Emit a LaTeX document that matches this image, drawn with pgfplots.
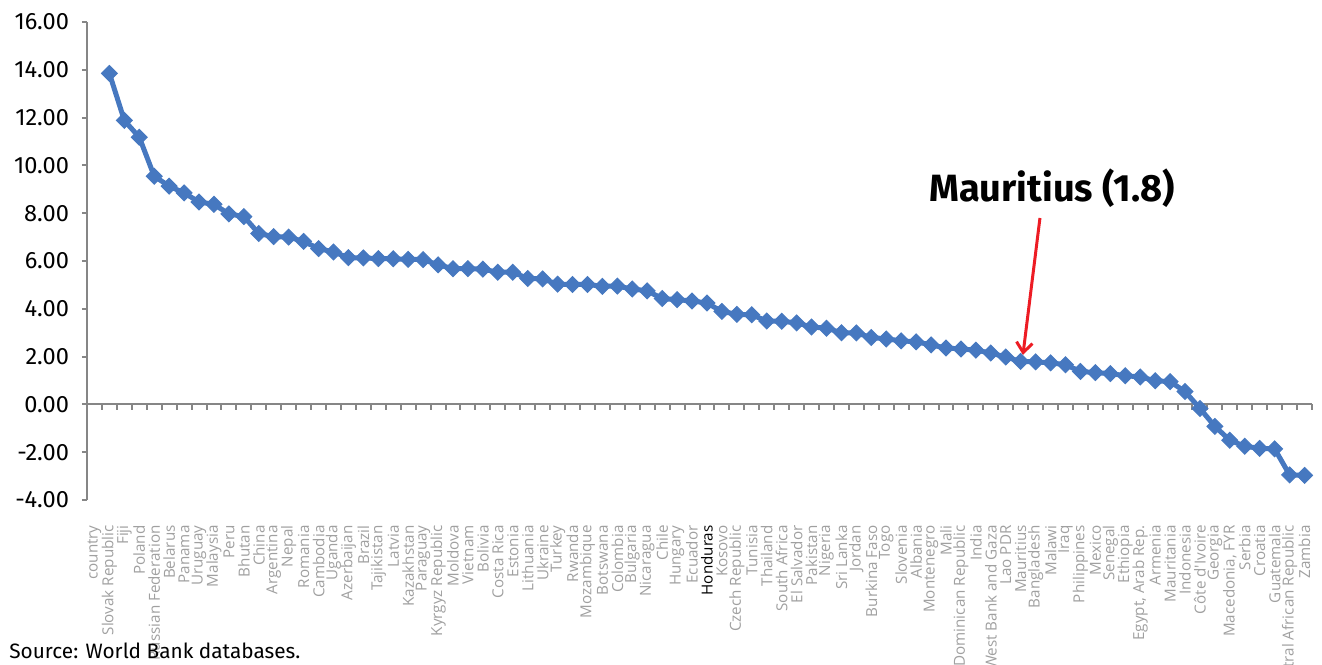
\documentclass[border=0pt]{standalone}
\usepackage{pgfplots}
\pgfplotsset{compat=1.18}
\usepackage{pgfplotstable}
\usetikzlibrary{arrows.meta}
\usepackage{fontspec}
\setmainfont{Fira Sans}
\newfontfamily\labfont{Open Sans}
\definecolor{lineblue}{RGB}{70,120,192}
\definecolor{axgray}{RGB}{134,134,134}
\definecolor{labgray}{RGB}{160,160,160}
\definecolor{arrred}{RGB}{237,28,36}

\pgfplotstableread{
x y
2 13.85
3 11.88
4 11.18
5 9.55
6 9.13
7 8.85
8 8.47
9 8.37
10 7.97
11 7.86
12 7.15
13 7.02
14 7.00
15 6.82
16 6.52
17 6.38
18 6.14
19 6.13
20 6.10
21 6.09
22 6.07
23 6.06
24 5.84
25 5.68
26 5.68
27 5.66
28 5.53
29 5.53
30 5.27
31 5.25
32 5.03
33 5.02
34 5.02
35 4.94
36 4.95
37 4.83
38 4.75
39 4.43
40 4.38
41 4.33
42 4.24
43 3.89
44 3.77
45 3.75
46 3.49
47 3.48
48 3.41
49 3.24
50 3.19
51 3.00
52 2.99
53 2.80
54 2.74
55 2.66
56 2.62
57 2.49
58 2.36
59 2.32
60 2.27
61 2.15
62 1.98
63 1.80
64 1.78
65 1.74
66 1.66
67 1.38
68 1.33
69 1.29
70 1.20
71 1.15
72 0.99
73 0.95
74 0.54
75 -0.17
76 -0.92
77 -1.50
78 -1.75
79 -1.84
80 -1.86
81 -2.95
82 -2.97
}\datatable

\begin{document}
\begin{tikzpicture}
\begin{axis}[name=ax, scale only axis, width=612.5pt, height=239pt,
  xmin=0.5, xmax=82.5, ymin=-4, ymax=16,
  axis y line=left, axis x line=bottom,
  x axis line style={draw=none},
  y axis line style={axgray, line width=1pt, -},
  ytick={-4,-2,...,16},
  y tick label style={/pgf/number format/.cd, fixed, fixed zerofill, precision=2, assume math mode=true, /tikz/.cd, font=\fontsize{11.8}{13}\selectfont, xshift=-3pt},
  y tick style={axgray, line width=1pt},
  tick align=outside, major tick length=2.5pt,
  xtick={1,...,82},
  x tick style={draw=none},
  xticklabels={country,Slovak Republic,Fiji,Poland,Russian Federation,Belarus,Panama,Uruguay,Malaysia,Peru,Bhutan,China,Argentina,Nepal,Romania,Cambodia,Uganda,Azerbaijan,Brazil,Tajikistan,Latvia,Kazakhstan,Paraguay,Kyrgyz Republic,Moldova,Vietnam,Bolivia,Costa Rica,Estonia,Lithuania,Ukraine,Turkey,Rwanda,Mozambique,Botswana,Colombia,Bulgaria,Nicaragua,Chile,Hungary,Ecuador,\textcolor{black}{Honduras},Kosovo,Czech Republic,Tunisia,Thailand,South Africa,El Salvador,Pakistan,Nigeria,Sri Lanka,Jordan,Burkina Faso,Togo,Slovenia,Albania,Montenegro,Mali,Dominican Republic,India,West Bank and Gaza,Lao PDR,Mauritius,Bangladesh,Malawi,Iraq,Philippines,Mexico,Senegal,Ethiopia,{Egypt, Arab Rep.},Armenia,Mauritania,Indonesia,Côte d'Ivoire,Georgia,{Macedonia, FYR},Serbia,Croatia,Guatemala,Central African Republic,Zambia},
  xticklabel style={yshift=-10pt, rotate=90, anchor=east, inner sep=0pt, font=\labfont\fontsize{7.6}{8}\selectfont, text=labgray},
  clip=false]
\draw[axgray, line width=1pt] (axis cs:0.5,0) -- (axis cs:82.5,0);
\pgfplotsinvokeforeach{1.5,2.5,...,82.5}{\draw[axgray, line width=1pt] (axis cs:#1,0) -- ++(0pt,-3pt);}
\addplot[lineblue, line width=2.5pt, mark=square*, mark size=2.8pt, mark options={rotate=45, solid, line width=0.5pt}] table[x=x,y=y] {\datatable};
\node[font=\bfseries\fontsize{19}{21}\selectfont] at (axis cs:65.1,9.06) {Mauritius (1.8)};
\draw[arrred, line width=1.5pt, -{Straight Barb[length=5pt,width=8pt]}] (axis cs:64.29,7.80) -- (axis cs:63.15,2.07);
\end{axis}
\node[anchor=base west, inner sep=0pt, font=\fontsize{10.4}{12}\selectfont] at ([xshift=-39pt,yshift=-79pt]ax.south west) {Source: World Bank databases.};
\pgfresetboundingbox
\path ([xshift=-43.5pt,yshift=-82pt]ax.south west) rectangle ++(661pt,332pt);
\end{tikzpicture}
\end{document}
